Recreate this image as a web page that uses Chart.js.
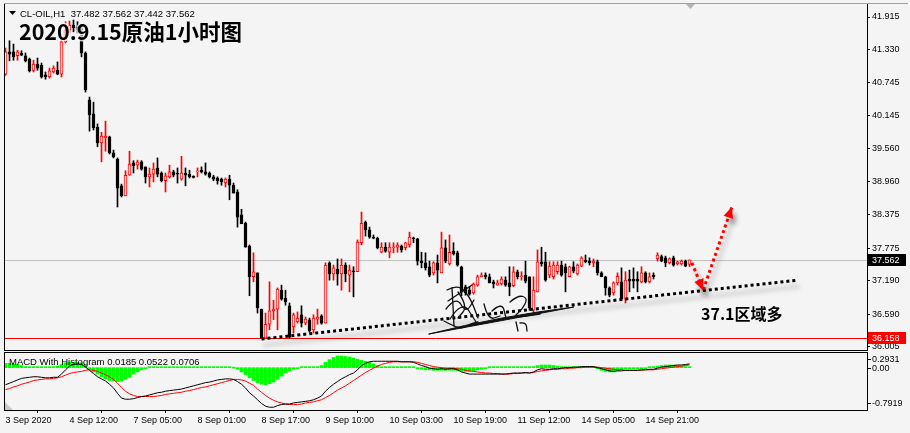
<!DOCTYPE html>
<html>
<head>
<meta charset="utf-8">
<script src="https://cdn.jsdelivr.net/npm/chart.js@4.4.1/dist/chart.umd.min.js"></script>
<style>
  html, body { margin: 0; padding: 0; background: #f4f4f4; }
  #wrap { position: relative; width: 910px; height: 433px; overflow: hidden; }
  #main { position: absolute; left: 0; top: 0; }
  #macd { position: absolute; left: 0; top: 351px; }
</style>
</head>
<body>
<div id="wrap">
  <canvas id="main" width="910" height="351"></canvas>
  <canvas id="macd" width="910" height="82"></canvas>
</div>
<script>
/* ── Données ──────────────────────────────────────────────────── */
const symbolName = 'CL-OIL,H1';
const chartTitle = '2020.9.15原油1小时图';
const noteText   = '37.1区域多';
const macdName   = 'MACD With Histogram';

const opens = [
  40.89,41.29,41.29,41.22,41.27,41.22,41.16,40.96,41.07,41.05,
  40.88,40.84,40.93,40.96,40.89,41.47,41.68,41.77,41.74,41.59,
  41.27,40.43,40.18,39.94,39.66,39.75,39.77,39.48,39.37,38.89,
  38.71,39.08,39.30,39.26,39.32,39.23,39.05,39.10,39.21,39.12,
  38.98,39.05,39.14,39.12,39.01,39.12,39.10,39.05,39.14,39.17,
  39.14,39.12,39.05,39.03,39.01,38.94,39.01,38.90,38.78,38.37,
  38.22,37.81,37.26,37.33,36.68,36.16,36.41,36.65,36.68,37.02,
  36.88,36.74,36.36,36.45,36.58,36.43,36.49,36.31,36.50,36.56,
  36.43,37.51,37.31,37.40,37.31,37.47,37.29,37.36,37.35,37.87,
  38.24,38.10,37.97,37.95,37.70,37.79,37.70,37.78,37.79,37.81,
  37.78,37.83,37.95,37.94,37.54,37.51,37.44,37.33,37.51,37.33,
  37.78,37.49,37.72,37.69,37.44,37.08,37.02,36.97,37.11,37.26,
  37.29,37.26,37.17,37.11,37.13,37.20,37.15,37.10,37.35,37.26,
  37.29,37.26,36.66,36.99,37.53,37.53,37.29,37.26,37.35,37.47,
  37.44,37.26,37.44,37.31,37.45,37.56,37.54,37.51,37.53,37.33,
  37.26,37.06,36.97,37.15,37.17,36.86,37.22,37.22,37.22,37.17,
  37.33,37.17,37.29,37.58,37.62,37.60,37.51,37.60,37.49,37.49,
  37.54,37.482
];
const highs = [
  41.36,41.49,41.43,41.32,41.31,41.27,41.18,41.14,41.18,41.09,
  40.93,41.00,41.04,41.11,41.50,41.83,41.84,41.86,41.83,41.77,
  41.29,40.48,40.39,40.00,39.85,40.05,39.78,39.53,39.39,38.92,
  39.16,39.51,39.34,39.35,39.34,39.23,39.21,39.30,39.39,39.14,
  39.12,39.26,39.17,39.21,39.42,39.21,39.17,39.07,39.21,39.23,
  39.30,39.14,39.08,39.05,39.03,39.03,39.08,38.94,38.82,38.47,
  38.24,37.83,37.69,37.33,36.68,36.61,37.17,36.84,37.06,37.11,
  37.02,36.79,36.61,36.63,36.74,36.54,36.52,36.58,36.68,36.58,
  37.51,37.53,37.47,37.58,37.58,37.51,37.47,37.44,37.92,38.42,
  38.26,38.15,38.01,37.97,37.87,37.87,37.87,37.87,37.87,37.83,
  37.88,38.06,37.97,37.95,37.70,37.69,37.54,37.53,37.65,38.06,
  37.92,38.01,37.87,37.72,37.45,37.11,37.08,37.15,37.29,37.33,
  37.33,37.31,37.20,37.20,37.26,37.26,37.44,37.44,37.38,37.35,
  37.54,37.26,37.26,37.74,37.79,37.70,37.53,37.53,37.53,37.54,
  37.49,37.45,37.53,37.49,37.62,37.65,37.60,37.58,37.56,37.35,
  37.27,37.08,37.17,37.33,37.42,37.35,37.38,37.42,37.35,37.44,
  37.35,37.33,37.33,37.69,37.65,37.63,37.60,37.63,37.54,37.56,
  37.56,37.562
];
const lows = [
  40.87,41.13,41.14,41.14,41.22,41.11,40.93,40.93,40.96,40.82,
  40.80,40.82,40.91,40.88,40.84,41.45,41.63,41.65,41.63,41.20,
  40.57,39.87,39.89,39.59,39.32,39.51,39.46,39.39,38.51,38.69,
  38.71,39.08,39.12,39.19,39.17,38.94,38.87,38.96,39.05,38.96,
  38.78,39.03,39.05,38.94,38.99,38.89,39.03,39.03,39.05,39.12,
  39.08,39.03,38.98,38.92,38.90,38.87,38.64,38.76,38.15,38.21,
  37.79,36.92,37.17,36.61,36.16,36.158,36.31,36.49,36.31,36.84,
  36.75,36.16,36.25,36.43,36.36,36.40,36.27,36.25,36.41,36.41,
  36.43,37.20,37.20,37.11,37.02,37.17,36.99,36.90,37.35,37.83,
  37.99,37.95,37.94,37.76,37.69,37.70,37.60,37.69,37.70,37.70,
  37.74,37.79,37.87,37.47,37.42,37.38,37.26,37.29,37.15,37.33,
  37.51,37.47,37.65,37.45,36.92,36.93,36.93,36.95,37.09,37.26,
  37.22,37.15,37.06,37.11,37.11,37.09,36.92,37.08,37.22,37.20,
  37.15,36.66,36.63,36.99,37.45,37.18,37.24,37.22,37.31,37.27,
  36.99,37.26,37.33,37.29,37.44,37.51,37.47,37.44,37.29,37.26,
  36.93,36.90,36.93,37.11,36.86,36.79,36.99,37.06,36.99,37.15,
  37.15,37.15,37.22,37.54,37.53,37.44,37.49,37.45,37.47,37.47,
  37.44,37.442
];
const closes = [
  41.29,41.25,41.20,41.29,41.23,41.13,40.95,41.07,41.00,40.84,
  40.84,40.95,41.00,40.89,41.47,41.68,41.77,41.72,41.68,41.27,
  40.61,40.16,39.93,39.66,39.78,39.78,39.48,39.41,38.85,38.71,
  39.08,39.28,39.25,39.32,39.19,39.05,39.10,39.19,39.10,38.98,
  39.07,39.14,39.08,39.10,39.12,39.08,39.05,39.04,39.16,39.14,
  39.10,39.05,39.01,38.98,38.96,39.01,38.90,38.76,38.33,38.21,
  37.79,37.26,37.35,36.70,36.16,36.41,36.65,36.68,37.04,36.86,
  36.81,36.18,36.58,36.52,36.43,36.50,36.29,36.52,36.54,36.43,
  37.47,37.31,37.42,37.31,37.47,37.31,37.38,37.35,37.88,38.22,
  38.10,37.97,37.95,37.78,37.79,37.72,37.79,37.79,37.83,37.74,
  37.87,37.97,37.94,37.54,37.51,37.42,37.29,37.51,37.38,37.78,
  37.54,37.70,37.67,37.47,36.99,36.97,36.95,37.13,37.26,37.29,
  37.26,37.15,37.13,37.15,37.22,37.11,37.08,37.35,37.26,37.27,
  37.18,36.70,37.02,37.53,37.49,37.20,37.45,37.47,37.47,37.29,
  37.33,37.44,37.36,37.47,37.60,37.53,37.51,37.54,37.33,37.26,
  37.06,36.93,37.15,37.27,36.86,37.20,37.18,37.18,37.18,37.33,
  37.17,37.26,37.26,37.65,37.54,37.51,37.58,37.47,37.53,37.54,
  37.45,37.562
];

const macdMain = [
  -0.32,-0.29,-0.26,-0.23,-0.20,-0.19,-0.18,-0.17,-0.17,-0.18,
  -0.19,-0.19,-0.18,-0.18,-0.12,-0.04,0.03,0.06,0.07,0.06,
  0.01,-0.05,-0.11,-0.17,-0.21,-0.25,-0.31,-0.38,-0.48,-0.57,
  -0.59,-0.59,-0.58,-0.56,-0.54,-0.53,-0.51,-0.49,-0.47,-0.46,
  -0.44,-0.43,-0.42,-0.41,-0.40,-0.38,-0.36,-0.34,-0.32,-0.30,
  -0.28,-0.27,-0.25,-0.23,-0.22,-0.21,-0.21,-0.22,-0.26,-0.31,
  -0.38,-0.47,-0.53,-0.60,-0.67,-0.72,-0.74,-0.74,-0.71,-0.69,
  -0.68,-0.68,-0.66,-0.65,-0.64,-0.63,-0.62,-0.60,-0.57,-0.53,
  -0.44,-0.37,-0.31,-0.26,-0.21,-0.17,-0.13,-0.10,-0.04,0.04,
  0.08,0.11,0.12,0.12,0.12,0.12,0.12,0.12,0.12,0.11,
  0.11,0.11,0.10,0.07,0.04,0.02,-0.01,-0.02,-0.03,-0.02,
  -0.03,-0.02,-0.02,-0.04,-0.08,-0.10,-0.12,-0.12,-0.12,-0.12,
  -0.12,-0.12,-0.12,-0.12,-0.12,-0.12,-0.11,-0.10,-0.10,-0.10,
  -0.09,-0.10,-0.08,-0.04,-0.02,-0.03,-0.03,-0.02,-0.02,-0.01,
  0.00,0.00,0.01,0.01,0.02,0.02,0.02,0.02,0.00,-0.02,
  -0.04,-0.06,-0.07,-0.06,-0.06,-0.05,-0.05,-0.05,-0.05,-0.04,
  -0.04,-0.03,-0.03,-0.01,0.01,0.02,0.03,0.04,0.05,0.05,
  0.06,0.0706
];
const macdSignal = [
  -0.41,-0.39,-0.36,-0.34,-0.31,-0.29,-0.27,-0.24,-0.23,-0.22,
  -0.21,-0.21,-0.20,-0.19,-0.17,-0.14,-0.11,-0.09,-0.08,-0.07,
  -0.05,-0.04,-0.05,-0.07,-0.10,-0.13,-0.17,-0.22,-0.29,-0.37,
  -0.44,-0.49,-0.52,-0.54,-0.54,-0.54,-0.54,-0.54,-0.53,-0.52,
  -0.50,-0.49,-0.48,-0.47,-0.46,-0.44,-0.43,-0.41,-0.39,-0.37,
  -0.36,-0.34,-0.32,-0.30,-0.28,-0.26,-0.24,-0.22,-0.22,-0.23,
  -0.25,-0.29,-0.33,-0.40,-0.46,-0.52,-0.57,-0.61,-0.64,-0.66,
  -0.68,-0.69,-0.69,-0.69,-0.68,-0.66,-0.65,-0.64,-0.62,-0.60,
  -0.56,-0.52,-0.47,-0.42,-0.38,-0.34,-0.29,-0.24,-0.19,-0.14,
  -0.09,-0.05,-0.01,0.03,0.06,0.08,0.10,0.11,0.11,0.11,
  0.11,0.11,0.11,0.10,0.08,0.06,0.04,0.02,0.01,0.00,
  -0.01,-0.01,-0.01,-0.02,-0.03,-0.05,-0.06,-0.07,-0.08,-0.09,
  -0.10,-0.10,-0.11,-0.11,-0.12,-0.12,-0.12,-0.11,-0.11,-0.10,
  -0.10,-0.10,-0.09,-0.07,-0.06,-0.05,-0.04,-0.03,-0.03,-0.02,
  -0.02,-0.01,-0.01,0.00,0.00,0.01,0.01,0.01,0.01,0.00,
  -0.01,-0.02,-0.03,-0.04,-0.04,-0.05,-0.05,-0.05,-0.05,-0.05,
  -0.04,-0.04,-0.04,-0.03,-0.02,-0.01,0.00,0.01,0.02,0.03,
  0.04,0.0522
];
const macdHist = [
  0.08,0.08,0.07,0.06,0.04,0.02,0.02,0.01,0.01,0.01,
  0.01,0.01,0.02,0.03,0.06,0.09,0.10,0.10,0.10,0.09,
  0.05,-0.03,-0.08,-0.12,-0.17,-0.21,-0.24,-0.25,-0.26,-0.25,
  -0.22,-0.18,-0.12,-0.08,-0.04,-0.02,0.01,0.01,0.01,0.01,
  0.01,0.01,0.01,0.01,0.01,0.01,0.01,0.01,0.01,0.01,
  0.01,0.01,0.01,0.01,0.01,0.01,0.01,0.00,-0.03,-0.08,
  -0.13,-0.19,-0.24,-0.28,-0.31,-0.32,-0.30,-0.27,-0.22,-0.16,
  -0.10,-0.06,-0.03,-0.01,0.01,0.01,0.01,0.01,0.01,0.04,
  0.10,0.15,0.19,0.22,0.22,0.21,0.20,0.18,0.16,0.14,
  0.12,0.10,0.07,0.04,0.01,0.01,0.01,0.01,0.01,0.01,
  0.01,0.01,0.01,-0.02,-0.03,-0.04,-0.04,-0.05,-0.05,-0.05,
  -0.05,-0.05,-0.05,-0.06,-0.07,-0.07,-0.07,-0.06,-0.04,-0.03,
  -0.02,0.01,0.01,0.01,0.01,0.01,0.01,0.01,0.01,0.01,
  0.01,0.01,0.02,0.04,0.05,0.05,0.05,0.04,0.03,0.02,
  0.01,0.01,0.01,0.01,0.01,0.01,0.01,0.01,-0.02,-0.05,
  -0.07,-0.08,-0.08,-0.06,-0.04,-0.02,-0.01,-0.01,-0.01,-0.01,
  -0.01,0.01,0.02,0.03,0.04,0.05,0.05,0.05,0.04,0.03,
  0.02,0.0185
];

const timeTickBars   = [0, 16, 32, 48, 64, 80, 96, 112, 128, 144, 160];
const timeTickLabels = ['3 Sep 2020', '4 Sep 12:00', '7 Sep 05:00', '8 Sep 01:00', '8 Sep 17:00',
                        '9 Sep 10:00', '10 Sep 03:00', '10 Sep 19:00', '11 Sep 12:00', '14 Sep 05:00', '14 Sep 21:00'];
const priceTicks = [41.915, 41.330, 40.745, 40.145, 39.560, 38.960, 38.375, 37.775, 37.190, 36.590, 36.005];
const macdTicks  = [0.2931, 0.00, -0.7919];

const lastPrice    = 37.562;
const supportPrice = 36.158;
const trendBars    = [64, 198.2];
const trendPrices  = [36.145, 37.20];
const arrowBars    = [171.6, 174.4, 181.6];
const arrowPrices  = [37.51, 37.02, 38.51];

/* ── Réglages ─────────────────────────────────────────────────── */
const BG    = '#f4f4f4';
const RED   = '#ff0000';
const FONT  = '"Liberation Sans", Arial, sans-serif';
const CJK   = '"Noto Sans CJK SC", "Noto Sans", sans-serif';
const X_MIN = -0.375, X_MAX = 215.375;

Chart.defaults.font.family = FONT;
Chart.defaults.font.size   = 9;
Chart.defaults.color       = '#000';

const bars  = closes.map((_, i) => i);
const bull  = bars.map(i => closes[i] >= opens[i]);

/* ── Outils de dessin ─────────────────────────────────────────── */
function hLine(ctx, a, y, color) {
  ctx.strokeStyle = color; ctx.lineWidth = 1;
  ctx.beginPath(); ctx.moveTo(a.left, y); ctx.lineTo(a.right, y); ctx.stroke();
}
function priceTag(ctx, y, color, text) {
  const yy = Math.round(y);
  ctx.fillStyle = color;
  ctx.fillRect(868, yy - 6, 38, 12);
  ctx.fillStyle = '#fff';
  ctx.font = '9px ' + FONT;
  ctx.textAlign = 'left'; ctx.textBaseline = 'middle';
  ctx.fillText(text, 872, yy + 0.5);
}
function arrowHead(ctx, fx, fy, tx, ty, color) {
  const ang = Math.atan2(ty - fy, tx - fx), L = 11, W = 5;
  const bx = tx - L * Math.cos(ang), by = ty - L * Math.sin(ang);
  ctx.beginPath();
  ctx.moveTo(tx, ty);
  ctx.lineTo(bx + W * Math.sin(ang), by - W * Math.cos(ang));
  ctx.lineTo(bx - W * Math.sin(ang), by + W * Math.cos(ang));
  ctx.closePath();
  ctx.fillStyle = color; ctx.fill();
}
function setShadow(ctx) {
  ctx.shadowColor = 'rgba(0,0,0,0.35)';
  ctx.shadowBlur = 5; ctx.shadowOffsetX = 3; ctx.shadowOffsetY = 6;
}
// signature manuscrite (décor)
function drawSignature(ctx) {
  const strokes = [
    [[447,290],[458,284],[470,297],[478,318]],
    [[448,301],[472,285]],
    [[446,309],[456,296],[466,313],[474,300]],
    [[450,319],[462,300],[476,322]],
    [[452,288],[453,306],[454,326]],
    [[444,321],[460,330],[470,324],[478,322]],
    [[458,292],[468,306],[458,318]],
    [[484,304],[488,320],[500,316]],
    [[492,311],[502,302],[506,318]],
    [[510,302],[518,295],[528,298],[522,310],[512,318],[540,314]],
    [[516,322],[518,331]],
    [[520,323],[526,322],[527,331]],
  ];
  ctx.save();
  ctx.strokeStyle = '#111'; ctx.lineWidth = 1.3;
  ctx.lineCap = 'round'; ctx.lineJoin = 'round';
  strokes.forEach(p => {
    ctx.beginPath(); ctx.moveTo(p[0][0], p[0][1]);
    for (let k = 1; k < p.length - 1; k++) {
      const mx = (p[k][0] + p[k + 1][0]) / 2, my = (p[k][1] + p[k + 1][1]) / 2;
      ctx.quadraticCurveTo(p[k][0], p[k][1], mx, my);
    }
    const e = p[p.length - 1]; ctx.lineTo(e[0], e[1]);
    ctx.stroke();
  });
  // trait final effilé
  ctx.fillStyle = '#111';
  ctx.beginPath();
  ctx.moveTo(429, 334); ctx.quadraticCurveTo(500, 316, 574, 307);
  ctx.quadraticCurveTo(500, 321, 429, 334);
  ctx.lineTo(429, 334); ctx.fill();
  ctx.lineWidth = 1; ctx.stroke();
  ctx.restore();
}

/* ── Graphique principal ──────────────────────────────────────── */
const mainDecor = {
  id: 'mainDecor',
  beforeDatasetsDraw(chart) {
    const { ctx, chartArea: a, scales: { y } } = chart;
    ctx.save();
    hLine(ctx, a, Math.round(y.getPixelForValue(lastPrice)) + 0.5, '#c0c0c0');
    hLine(ctx, a, Math.round(y.getPixelForValue(supportPrice)) + 0.5, RED);
    ctx.restore();
  },
  beforeDatasetDraw(chart, args) {
    if (chart.data.datasets[args.index].shadow) { chart.ctx.save(); setShadow(chart.ctx); }
  },
  afterDatasetDraw(chart, args) {
    if (chart.data.datasets[args.index].shadow) chart.ctx.restore();
  },
  afterDraw(chart) {
    const { ctx, chartArea: a, scales: { x, y } } = chart;
    ctx.save();

    // flèches
    const px = arrowBars.map(b => x.getPixelForValue(b));
    const py = arrowPrices.map(p => y.getPixelForValue(p));
    ctx.save(); setShadow(ctx);
    arrowHead(ctx, px[0], py[0], px[1], py[1], RED);
    arrowHead(ctx, px[1], py[1], px[2], py[2], RED);
    ctx.restore();

    drawSignature(ctx);

    // cadre
    ctx.fillStyle = '#000';
    ctx.fillRect(a.left, a.top, 1, a.bottom - a.top);
    ctx.fillRect(a.right, a.top, 1, a.bottom - a.top + 1);
    ctx.fillRect(a.left, a.bottom, a.right - a.left + 1, 1);
    ctx.fillStyle = '#a0a0a0';
    ctx.fillRect(a.left, a.top - 1, 904, 1);

    // petit triangle de décalage
    ctx.fillStyle = '#b4b4b4';
    ctx.beginPath(); ctx.moveTo(686, 4); ctx.lineTo(695, 4); ctx.lineTo(690.5, 9); ctx.closePath(); ctx.fill();

    // étiquettes de prix
    priceTag(ctx, y.getPixelForValue(lastPrice), '#000', lastPrice.toFixed(3));
    priceTag(ctx, y.getPixelForValue(supportPrice), RED, supportPrice.toFixed(3));

    // en-tête
    ctx.fillStyle = '#000';
    ctx.beginPath(); ctx.moveTo(9, 11); ctx.lineTo(16, 11); ctx.lineTo(12.5, 15); ctx.closePath(); ctx.fill();
    const n = closes.length - 1;
    ctx.font = '9.5px ' + FONT; ctx.textAlign = 'left'; ctx.textBaseline = 'alphabetic';
    ctx.fillText(symbolName + '  ' + [opens[n], highs[n], lows[n], closes[n]].map(v => v.toFixed(3)).join(' '), 20, 16.5);

    // titre
    ctx.font = 'bold 21.5px ' + CJK;
    ctx.lineWidth = 3; ctx.strokeStyle = 'rgba(244,244,244,0.8)';
    ctx.strokeText(chartTitle, 19, 40);
    ctx.fillStyle = '#000';
    ctx.fillText(chartTitle, 19, 40);

    // note
    ctx.font = 'bold 16px ' + CJK;
    ctx.fillText(noteText, 701, 320);
    ctx.restore();
  }
};

new Chart(document.getElementById('main'), {
  type: 'bar',
  data: {
    datasets: [
      {
        type: 'line', label: 'arrow', shadow: true, order: 0,
        data: arrowBars.map((b, k) => ({ x: b, y: arrowPrices[k] })),
        borderColor: RED, borderWidth: 3, borderDash: [3, 3], pointRadius: 0, tension: 0,
      },
      {
        type: 'line', label: 'trend', shadow: true, order: 1,
        data: trendBars.map((b, k) => ({ x: b, y: trendPrices[k] })),
        borderColor: '#000', borderWidth: 3, borderDash: [3, 3], pointRadius: 0, tension: 0,
      },
      {
        label: 'body', order: 2, grouped: false,
        data: bars.map(i => ({ x: i, y: [opens[i], closes[i]] })),
        backgroundColor: bull.map(b => b ? BG : '#000'),
        borderColor: bull.map(b => b ? RED : '#000'),
        borderWidth: 1, borderSkipped: false, barThickness: 3, minBarLength: 1,
      },
      {
        label: 'wick', order: 3, grouped: false,
        data: bars.map(i => ({ x: i, y: [lows[i], highs[i]] })),
        backgroundColor: bull.map(b => b ? RED : '#000'),
        borderWidth: 0, barThickness: 1, minBarLength: 1,
      },
    ],
  },
  options: {
    responsive: false, animation: false, devicePixelRatio: 1, events: [],
    layout: { padding: { left: 4, top: 4, right: 0, bottom: 1 } },
    plugins: { legend: { display: false }, tooltip: { enabled: false } },
    scales: {
      x: { type: 'linear', display: false, offset: false, min: X_MIN, max: X_MAX },
      y: {
        position: 'right', bounds: 'data', min: 35.948, max: 42.148,
        afterBuildTicks: s => { s.ticks = priceTicks.map(v => ({ value: v })); },
        afterFit: s => { s.width = 43; s.paddingTop = 0; s.paddingBottom = 0; },
        grid: { drawOnChartArea: false, tickLength: 3, color: '#000' },
        border: { display: false },
        ticks: { autoSkip: false, padding: 2, callback: v => v.toFixed(3) },
      },
    },
  },
  plugins: [mainDecor],
});

/* ── Sous-fenêtre MACD ────────────────────────────────────────── */
const macdDecor = {
  id: 'macdDecor',
  afterDraw(chart) {
    const { ctx, chartArea: a, scales: { y } } = chart;
    ctx.save();
    ctx.fillStyle = '#000';
    ctx.fillRect(a.left, a.top, a.right - a.left + 1, 1);
    ctx.fillRect(a.left, a.bottom, a.right - a.left + 1, 1);
    ctx.fillRect(a.left, a.top, 1, a.bottom - a.top);
    ctx.fillRect(a.right, a.top, 1, a.bottom - a.top + 1);

    ctx.font = '9px ' + FONT; ctx.textAlign = 'left'; ctx.textBaseline = 'middle';
    macdTicks.forEach(v => {
      const yy = Math.round(Math.min(Math.max(y.getPixelForValue(v), a.top + 7), a.bottom - 7));
      ctx.fillRect(a.right, yy, 4, 1);
      ctx.fillText(v === 0 ? v.toFixed(2) : v.toFixed(4), 872, yy + 0.5);
    });

    ctx.fillStyle = '#c8c8c8';
    ctx.beginPath(); ctx.moveTo(a.left + 1, a.bottom - 8); ctx.lineTo(a.left + 1, a.bottom); ctx.lineTo(a.left + 9, a.bottom); ctx.closePath(); ctx.fill();

    const n = macdHist.length - 1;
    ctx.fillStyle = '#000'; ctx.textBaseline = 'alphabetic';
    ctx.font = '9.5px ' + FONT;
    ctx.fillText(macdName + ' ' + [macdHist[n], macdSignal[n], macdMain[n]].map(v => v.toFixed(4)).join(' '), 9, 14);
    ctx.restore();
  }
};

new Chart(document.getElementById('macd'), {
  type: 'bar',
  data: {
    datasets: [
      {
        type: 'line', label: 'MACD', order: 1,
        data: bars.map(i => ({ x: i, y: macdMain[i] })),
        borderColor: '#000', borderWidth: 1, pointRadius: 0, tension: 0,
      },
      {
        type: 'line', label: 'Signal', order: 2,
        data: bars.map(i => ({ x: i, y: macdSignal[i] })),
        borderColor: RED, borderWidth: 1, pointRadius: 0, tension: 0,
      },
      {
        label: 'Histogram', order: 3, grouped: false,
        data: bars.map(i => ({ x: i, y: macdHist[i] })),
        backgroundColor: '#00ff00', borderWidth: 0, barThickness: 3, minBarLength: 1,
      },
    ],
  },
  options: {
    responsive: false, animation: false, devicePixelRatio: 1, events: [],
    layout: { padding: { left: 4, top: 1, right: 43, bottom: 0 } },
    plugins: { legend: { display: false }, tooltip: { enabled: false } },
    scales: {
      x: {
        type: 'linear', offset: false, min: X_MIN, max: X_MAX,
        afterBuildTicks: s => { s.ticks = timeTickBars.map(v => ({ value: v })); },
        afterFit: s => { s.height = 23; s.paddingLeft = 0; s.paddingRight = 0; },
        grid: { drawOnChartArea: false, tickLength: 3, color: '#000' },
        border: { display: false },
        ticks: {
          autoSkip: false, maxRotation: 0, minRotation: 0, align: 'start', padding: 2,
          callback: v => timeTickLabels[timeTickBars.indexOf(v)],
        },
      },
      y: { display: false, bounds: 'data', min: -0.7919, max: 0.2931 },
    },
  },
  plugins: [macdDecor],
});
</script>
</body>
</html>
